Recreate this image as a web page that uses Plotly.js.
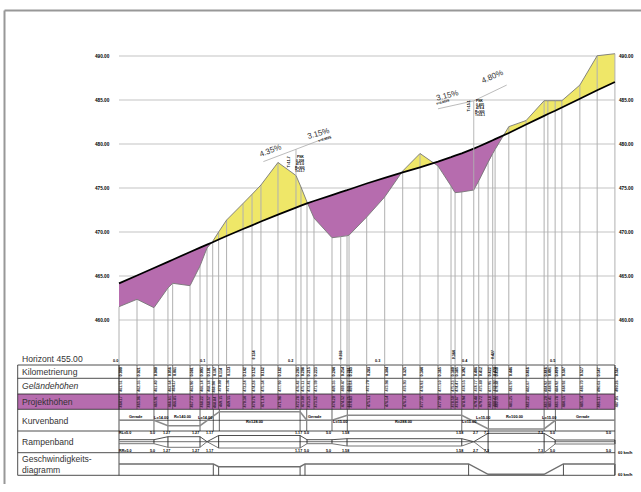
<!DOCTYPE html>
<html><head><meta charset="utf-8">
<script src="https://cdn.plot.ly/plotly-3.0.1.min.js"></script>
<style>html,body{margin:0;padding:0;background:#fff}#c{width:641px;height:492px}</style>
</head><body><div id="c"></div>
<script>
// Chainage of each cross-section (m)
const stations=[0,20.6,40,56,61.4,81.3,92.7,100.7,107.2,114,123.1,141.9,152.2,162.4,181.9,202.5,208.2,215.1,223.1,243.7,253.7,260.9,263.2,283.4,304,324.6,344.4,365,379.9,384.5,392.2,405.9,411.6,422.3,427.6,430.3,446,465.8,486.4,490.7,499,506.7,527.3,547.1,567.4];
// Terrain elevation (m)
const terrain=[461.51,462.35,461.40,463.64,464.17,463.90,466.14,468.18,468.94,470.00,471.36,473.24,474.28,475.34,477.90,476.42,475.11,473.41,471.59,469.35,469.47,469.57,469.64,471.70,473.98,476.93,478.92,477.50,475.23,474.47,474.55,474.77,475.80,477.95,478.92,479.38,481.97,482.67,484.92,484.92,484.92,484.92,486.70,490.03,490.26];
// Design elevation (m)
const project=[464.17,465.06,465.91,466.61,466.85,467.73,468.22,468.57,468.84,469.15,469.55,470.34,470.76,471.19,471.98,472.78,473.00,473.25,473.52,474.20,474.52,474.75,474.83,475.51,476.14,476.78,477.35,477.99,478.50,478.67,478.94,479.48,479.72,480.18,480.42,480.55,481.25,482.22,483.20,483.41,483.78,484.15,485.14,486.11,487.05];
const gridElev=[460,465,470,475,480,485,490];
const kmTicks=[0,100,200,300,400,500];
const kmTickLabels=['0.0','0.1','0.2','0.3','0.4','0.5'];
// Grade line
const gradeX=[165.2,202.5,242,365,405.9,443.6];
const gradeY=[478.0,479.4,480.9,484.0,484.9,486.7];
const gradeBreakX=[202.5,405.9];
const gradeBreakTop=[479.4,484.9];
const gradeText=['4.35%','3.15%','3.15%','4.80%'];
const gradeTextX=[173.6,228,375.6,427.4];
const gradeTextY=[479.25,481.2,485.5,487.65];
const gradeTextAngle=[-21,-16,-15,-24];
// Band rows
const rowEdges=[365,378.3,394,409.3,431,452.7,475.3];
const rowLabels=['Kilometrierung','Geländehöhen','Projekthöhen','Kurvenband','Rampenband','Geschwindigkeits-<br>diagramm'];
const rowLabelY=[372,386,402,420.5,442,464.5];
const tableEndX=567.4;
// Curve band
const curveX=[0,40,56,92.7,114.8,207.2,214.8,243.7,261.2,392.2,422.6,486.4,499.3,567.4];
const curveY=[420.3,420.3,425.7,425.7,411.7,411.7,420.3,420.3,415.3,415.3,429,429,420.3,420.3];
const curveTicks=[40,56,92.7,107.9,114.8,207.2,214.8,243.7,261.2,392.2,422.6,486.4,499.3];
const curveNames=['Gerade','L=14.00','R=140.00','L=14.00','R=128.00','Gerade','L=15.00','R=288.00','L=15.00','L=15.00','R=100.00','L=15.00','Gerade'];
const curveNameX=[19.2,47.7,72.5,98.4,155.6,224.5,253,325.3,400.6,415.9,452.3,491.9,531];
const curveNameY=[416,417.3,416.3,417.3,421.7,416.7,421.7,421.7,421.7,417.3,416.7,417.3,416.7];
// Ramp band
const rampX=[0,40,56,92.7,100.7,114,207.2,215.1,243.7,260.9,392.2,405.9,422.3,486.4,499,567.4];
const rampUpper=[439.7,439.7,436.7,436.7,441.7,435.5,435.5,439.7,439.7,438.7,438.7,441.7,433.3,433.3,440,440];
const rampLower=[443.7,443.7,447.3,447.3,441.7,448,448,443.7,443.7,446,446,441.7,452.7,452.7,444,444];
const rampTicks=[40,56,92.7,114,207.2,215.1,243.7,260.9,392.2,405.9,422.3,486.4,499,567.4];
const rampText=['RL=5.0','5.0','1.27','1.27','1.17','1.17','5.0','5.0','1.58','1.58','2.7','7.3','7.3','5.0','5.0'];
const rampTextLow=['RR=5.0','5.0','1.27','1.27','1.17','1.17','5.0','5.0','1.58','1.58','2.7','7.3','7.3','5.0','5.0'];
const rampTextX=[7,38,54,88,104,205,214,240,259,390,408,420,482,496,560];
// Speed band
const speedX=[0,107.9,114,207.2,212.8,400,422.3,486.4,508.5,567.4];
const speedY=[464,464,466.7,466.7,464,464,474.3,474.3,464,464];
const speedTicks=[107.9,114,207.2,212.8,400,508.5,567.4];
const speedLabels=['60 km/h','60 km/h'];
const speedLabelY=[452.3,474];
// Small notes at the grade breaks
const noteChain=[195,207.2,400,412.5];
const noteLines=[['T=11.7'],['PNK','0.208','473.0','R=900','T=11.7'],['T=15.1'],['PNK','0.405','479.4','R=900','T=15.1']];
const noteTop=[162,157,106,101];
const extraKm=['0.154','0.253','0.384','0.427'];
const extraKmX=[154,253.5,383.5,428];

const GREY='#b4b4b4',BLACK='#222',PURPLE='#B66CAE',YELLOW='#EFE768';
const pxPerM=0.874,pxPerH=8.8,xOrigin=119,yOrigin=320;
const xr=[-xOrigin/pxPerM,(641-xOrigin)/pxPerM];
const yr=[460-(492-yOrigin)/pxPerH,460+yOrigin/pxPerH];

const traces=[];
const line=(x,y,color,width,yaxis)=>traces.push({type:'scatter',mode:'lines',x,y,yaxis:yaxis||'y',hoverinfo:'skip',showlegend:false,line:{color,width,simplify:false},connectgaps:false});
const breaks=(xs,a,b)=>{const X=[],Y=[];xs.forEach((v,i)=>{X.push(v,v,null);Y.push(a[i],b[i],null)});return [X,Y]};

// grid lies behind the cut / fill areas
gridElev.forEach(e=>line([0,tableEndX],[e,e],'#c4c4c4',1.2));

// cut / fill polygons between terrain and design line
let segX=[],segT=[],segP=[];
const flush=()=>{
  if(segX.length<2)return;
  const above=segT.some((v,i)=>v>segP[i]+1e-6);
  traces.push({type:'scatter',mode:'lines',x:segX.concat(segX.slice().reverse()),y:segT.concat(segP.slice().reverse()),fill:'toself',fillcolor:above?YELLOW:PURPLE,line:{color:'rgba(0,0,0,0)',width:0},hoverinfo:'skip',showlegend:false});
};
stations.forEach((s,i)=>{
  segX.push(s);segT.push(terrain[i]);segP.push(project[i]);
  if(i<stations.length-1){
    const d0=terrain[i]-project[i],d1=terrain[i+1]-project[i+1];
    if(d0*d1<0){
      const t=d0/(d0-d1),cx=s+t*(stations[i+1]-s),cy=project[i]+t*(project[i+1]-project[i]);
      segX.push(cx);segT.push(cy);segP.push(cy);flush();
      segX=[cx];segT=[cy];segP=[cy];
    }
  }
});
flush();

// station verticals from the terrain to the horizon
{const [X,Y]=breaks(stations,terrain,stations.map(()=>455));line(X,Y,'#b0b0b0',1);}
// terrain + design
line(stations,terrain,'#777',0.9);
line(stations,project,'#000',1.8);
// grade line
line(gradeX.slice(0,3),gradeY.slice(0,3),'#aaa',0.8);
line(gradeX.slice(3),gradeY.slice(3),'#aaa',0.8);
{const [X,Y]=breaks(gradeBreakX,gradeBreakTop,gradeBreakX.map((x)=>terrain[stations.indexOf(x)]));line(X,Y,'#b0b0b0',0.9);}

// bands (second scale: table rows)
const tableLeft=xr[0]+17.7/pxPerM;
traces.push({type:'scatter',mode:'lines',yaxis:'y2',x:[tableLeft,tableEndX,tableEndX,tableLeft,tableLeft],y:[rowEdges[2],rowEdges[2],rowEdges[3],rowEdges[3],rowEdges[2]],fill:'toself',fillcolor:PURPLE,line:{width:0,color:PURPLE},hoverinfo:'skip',showlegend:false});
{const X=[],Y=[];rowEdges.forEach(r=>{X.push(tableLeft,tableEndX,null);Y.push(r,r,null)});
 X.push(tableLeft,tableLeft,null,0,0,null,tableEndX,tableEndX);Y.push(rowEdges[0],rowEdges[6],null,rowEdges[0],rowEdges[6],null,rowEdges[0],rowEdges[6]);line(X,Y,BLACK,0.8,'y2');}
{const [X,Y]=breaks(stations,stations.map(()=>rowEdges[0]),stations.map(()=>rowEdges[3]));line(X,Y,'#444',0.7,'y2');}
// curve band
line([0,tableEndX],[420.3,420.3],BLACK,0.7,'y2');
{const [X,Y]=breaks(curveTicks,curveTicks.map(()=>rowEdges[3]),curveTicks.map(()=>rowEdges[4]));line(X,Y,BLACK,0.7,'y2');}
line(curveX,curveY,'#8a8a8a',1.6,'y2');
// ramp band
line([0,tableEndX],[441.7,441.7],'#8a8a8a',1.2,'y2');
{const [X,Y]=breaks(rampTicks,rampTicks.map((x)=>{const i=rampX.indexOf(x);return i<0?441.7:rampUpper[i]}),rampTicks.map((x)=>{const i=rampX.indexOf(x);return i<0?441.7:rampLower[i]}));line(X,Y,BLACK,0.9,'y2');}
line(rampX,rampUpper,BLACK,0.8,'y2');
line(rampX,rampLower,'#666',0.9,'y2');
// speed band
{const [X,Y]=breaks(speedTicks,speedTicks.map(x=>speedY[speedX.indexOf(x)]),speedTicks.map(()=>rowEdges[6]));line(X,Y,BLACK,0.8,'y2');}
line(speedX,speedY,'#6e6e6e',1.4,'y2');

const FF='"Liberation Sans",Arial,sans-serif';
const ann=[];
const txt=(x,y,text,size,o)=>ann.push(Object.assign({x,y,text,xref:'x',yref:'y2',showarrow:false,borderpad:0,font:{family:FF,size,color:(o&&o.color)||'#111'}},o&&o.extra));
const y2px=e=>yOrigin-(e-460)*pxPerH;
const bold=(x,y,t,size,extra)=>ann.push(Object.assign({x,y,text:t,xref:'x',yref:'y2',showarrow:false,borderpad:0,font:{family:FF,size,color:'#000',weight:700}},extra||{}));
// elevation labels
gridElev.forEach(e=>{
  bold(-9.5,y2px(e),e.toFixed(2),4.7,{xanchor:'right'});
  bold(571.5,y2px(e),e.toFixed(2),4.7,{xanchor:'left'});
});
kmTicks.forEach((k,i)=>bold(k-4,361.3,kmTickLabels[i],3.8));
extraKm.forEach((t,i)=>bold(extraKmX[i],355,t,3.6,{textangle:-90}));
// row labels
txt(tableLeft+3.3/pxPerM,358.5,'Horizont 455.00',8.6,{color:'#333',extra:{xanchor:'left'}});
rowLabels.forEach((t,i)=>{
  const lab=i===1?'<i>'+t+'</i>':t;
  txt(tableLeft+3.3/pxPerM,rowLabelY[i],lab,8.6,{color:'#333',extra:{xanchor:'left',align:'left'}});
});
// per-station values
stations.forEach((s,i)=>{
  const dx=1.8/pxPerM;
  const b=(y,t,c)=>ann.push({x:s+dx,y,text:t,xref:'x',yref:'y2',showarrow:false,textangle:-90,borderpad:0,font:{family:FF,size:3.7,color:c,weight:700}});
  b(371.6,(s/1000).toFixed(3),'#000');
  b(386,terrain[i].toFixed(2),'#333');
  b(401.6,project[i].toFixed(2),'#3a1e38');
});
// band text
curveNames.forEach((t,i)=>bold(curveNameX[i],curveNameY[i],t,3.9));
rampText.forEach((t,i)=>bold(rampTextX[i],432.9,t,3.7));
rampTextLow.forEach((t,i)=>bold(rampTextX[i],451,t,3.7));
speedLabels.forEach((t,i)=>bold(569.5,speedLabelY[i],t,3.9,{xanchor:'left'}));
// grade labels
gradeText.forEach((t,i)=>txt(gradeTextX[i],y2px(gradeTextY[i]),t,8,{color:'#333',extra:{textangle:gradeTextAngle[i]}}));
bold(236,139,'s=0.0025',3.2,{textangle:-17});
bold(371,102,'s=0.0025',3.2,{textangle:-15});
// notes
noteLines.forEach((rows,i)=>{
  if(rows.length===1){bold(noteChain[i],noteTop[i],rows[0],3.6,{textangle:-90});}
  else rows.forEach((t,j)=>bold(noteChain[i],noteTop[i]+j*3.5,t,3.2));
});

const layout={
  width:641,height:492,margin:{l:0,r:0,t:0,b:0},paper_bgcolor:'#fff',plot_bgcolor:'#fff',showlegend:false,
  xaxis:{range:xr,visible:false,fixedrange:true},
  yaxis:{range:yr,visible:false,fixedrange:true},
  yaxis2:{range:[492,0],visible:false,overlaying:'y',fixedrange:true},
  annotations:ann,
  shapes:[
    {type:'line',xref:'paper',yref:'paper',x0:4.5/641,x1:1,y0:1-10.5/492,y1:1-10.5/492,line:{color:'#989898',width:2}},
    {type:'line',xref:'paper',yref:'paper',x0:4.5/641,x1:4.5/641,y0:1-10.5/492,y1:1-484/492,line:{color:'#989898',width:2}}
  ]
};
Plotly.newPlot('c',traces,layout,{displayModeBar:false,staticPlot:true});
</script></body></html>
